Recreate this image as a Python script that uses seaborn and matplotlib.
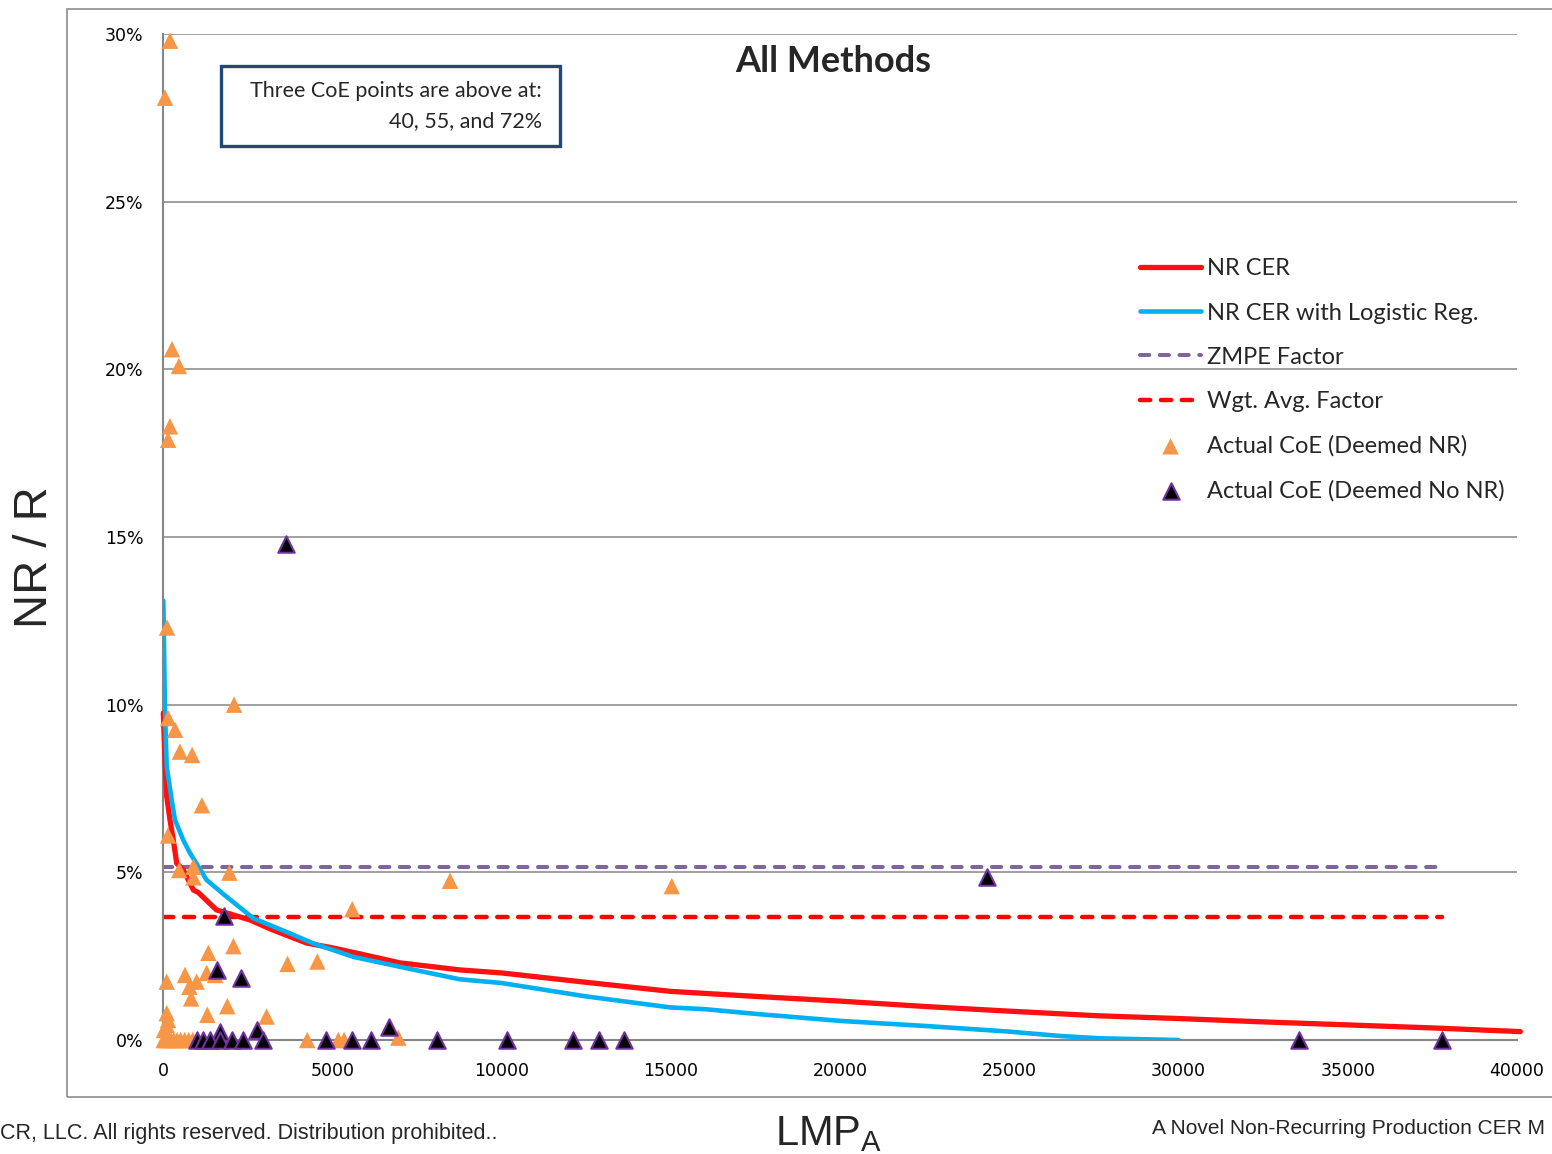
import matplotlib
matplotlib.use("Agg")
import matplotlib.pyplot as plt
import seaborn as sns
from matplotlib.patches import Rectangle

# ----------------------------
# data (y values in percent)
# ----------------------------
nr_cer_x = [10, 60, 110, 207, 305, 405, 600, 900, 1040, 1580, 2270, 2570, 3200, 4245,
            5000, 6210, 7000, 8770, 10000, 12500, 15000, 17500, 20000, 22500, 25000,
            27680, 30000, 32500, 35000, 37500, 40100]
nr_cer_y = [9.75, 8.3, 7.26, 6.56, 5.96, 5.27, 5.07, 4.47, 4.4, 3.88, 3.67, 3.58, 3.3, 2.89,
            2.75, 2.48, 2.3, 2.09, 2.0, 1.72, 1.45, 1.3, 1.16, 1.0, 0.86,
            0.72, 0.64, 0.54, 0.45, 0.36, 0.25]

logit_x = [10, 60, 110, 257, 355, 600, 800, 1290, 1880, 2670, 3750, 4440, 5620, 7200,
           8770, 10000, 12500, 15000, 16000, 17500, 20000, 22500, 25000, 26500, 27680, 30000]
logit_y = [13.1, 9.75, 8.15, 7.16, 6.56, 5.96, 5.57, 4.77, 4.27, 3.63, 3.18, 2.88, 2.48, 2.14,
           1.81, 1.7, 1.3, 0.97, 0.92, 0.78, 0.57, 0.42, 0.25, 0.12, 0.05, 0.0]

zmpe_x = [0, 37780]
zmpe_y = [5.16, 5.16]
wgt_x = [0, 37780]
wgt_y = [3.67, 3.67]

deemed_nr_x = [207, 60, 265, 470, 207, 150, 120, 2100, 150, 355, 500, 860, 1150, 150,
               480, 900, 900, 1960, 8480, 15030, 5590, 2080, 1340, 3680, 4560, 110, 650,
               995, 780, 1290, 1540, 830, 1900, 1310, 3060, 110, 150, 110, 30,
               4260, 5180, 5350, 6950, 20, 80, 160, 240, 320, 420, 520, 640, 760, 880, 1000]
deemed_nr_y = [29.8, 28.1, 20.6, 20.1, 18.3, 17.9, 12.3, 10.0, 9.6, 9.25, 8.6, 8.5, 7.0, 6.1,
               5.07, 5.17, 4.85, 4.99, 4.75, 4.59, 3.9, 2.8, 2.6, 2.27, 2.34, 1.74, 1.94,
               1.74, 1.59, 2.0, 1.94, 1.24, 1.01, 0.75, 0.7, 0.8, 0.6, 0.45, 0.3,
               0, 0, 0, 0.07, 0, 0, 0, 0, 0, 0, 0, 0, 0, 0, 0]

no_nr_x = [3630, 24340, 1800, 1600, 2300, 6690, 2770, 1680, 995, 1190, 1390, 1680, 2030,
           2350, 2940, 4830, 5570, 6130, 8080, 10170, 12100, 12890, 13620, 33560, 37780]
no_nr_y = [14.79, 4.86, 3.7, 2.09, 1.84, 0.38, 0.3, 0.25, 0, 0, 0, 0, 0,
           0, 0, 0, 0, 0, 0, 0, 0, 0, 0, 0, 0]

y_ticks = [0, 5, 10, 15, 20, 25, 30]
x_ticks = [0, 5000, 10000, 15000, 20000, 25000, 30000, 35000, 40000]

# ----------------------------
# figure
# ----------------------------
sns.set_style("white")
plt.rcParams["font.family"] = ["DejaVu Sans"]
plt.rcParams["mathtext.default"] = "regular"

W, H = 1552, 1154
fig = plt.figure(figsize=(W / 100, H / 100), dpi=100)
ax = fig.add_axes([163 / W, 114 / H, 1354 / W, 1006 / H])

# outer frame of the slide chart
fig.patches.append(Rectangle((67 / W, 57 / H), 1.2, 1088 / H, transform=fig.transFigure,
                             fill=False, edgecolor="#8c8c8c", lw=1.2, zorder=0))

grey = "#868686"
for v in y_ticks[1:]:
    ax.axhline(v, color=grey, lw=1.1, zorder=0)

sns.lineplot(x=nr_cer_x, y=nr_cer_y, ax=ax, color="#ff1111", lw=3.8, sort=False,
             estimator=None, label="NR CER", zorder=3, clip_on=False)
sns.lineplot(x=logit_x, y=logit_y, ax=ax, color="#00B0F0", lw=3.3, sort=False,
             estimator=None, label="NR CER with Logistic Reg.", zorder=3)
sns.lineplot(x=zmpe_x, y=zmpe_y, ax=ax, color="#8064A2", lw=2.9, sort=False,
             estimator=None, label="ZMPE Factor", zorder=2,
             linestyle=(0, (2.3, 2.6)), dash_capstyle="round")
sns.lineplot(x=wgt_x, y=wgt_y, ax=ax, color="#ff0000", lw=3.2, sort=False,
             estimator=None, label="Wgt. Avg. Factor", zorder=2,
             linestyle=(0, (2.3, 2.4)), dash_capstyle="round")

sns.scatterplot(x=deemed_nr_x, y=deemed_nr_y, ax=ax, marker="^", s=140, color="#F79646",
                edgecolor="none", label="Actual CoE (Deemed NR)", zorder=5, clip_on=False)
sns.scatterplot(x=no_nr_x, y=no_nr_y, ax=ax, marker="^", s=140, color="black",
                edgecolor="#7030A0", linewidth=1.5, label="Actual CoE (Deemed No NR)",
                zorder=6, clip_on=False)

ax.set_xlim(0, 40000)
ax.set_ylim(0, 30)
ax.set_xticks(x_ticks)
ax.set_xticklabels([str(v) for v in x_ticks])
ax.set_yticks(y_ticks)
ax.set_yticklabels([f"{v}%" for v in y_ticks])
ax.tick_params(axis="both", which="major", direction="out", length=6, width=1.2,
               color=grey, labelsize=12.5, labelcolor="black", pad=8)
ax.tick_params(axis="x", pad=10)
for side in ["top", "right"]:
    ax.spines[side].set_visible(False)
for side in ["left", "bottom"]:
    ax.spines[side].set_color(grey)
    ax.spines[side].set_linewidth(1.5)
ax.set_xlabel("")
ax.set_ylabel("")

# legend, same order as the reference
order = ["NR CER", "NR CER with Logistic Reg.", "ZMPE Factor", "Wgt. Avg. Factor",
         "Actual CoE (Deemed NR)", "Actual CoE (Deemed No NR)"]
handles, labels = ax.get_legend_handles_labels()
lookup = dict(zip(labels, handles))
ax.legend([lookup[k] for k in order], order, loc="upper left",
          bbox_to_anchor=(1131 / W, (H - 249) / H), bbox_transform=fig.transFigure,
          frameon=False, handlelength=2.55, handletextpad=0.25, labelspacing=0.98,
          borderaxespad=0, prop={"family": "Lato", "size": 17})

# title and note box
fig.text(833 / W, (H - 62) / H, "All Methods", ha="center", va="center",
         fontsize=26, fontweight="bold", family="Lato")
fig.patches.append(Rectangle((221 / W, (H - 146) / H), 339 / W, 80 / H,
                             transform=fig.transFigure, facecolor="white",
                             edgecolor="#1F497D", lw=2.4, zorder=3))
fig.text(542 / W, (H - 91) / H, "Three CoE points are above at:", ha="right",
         va="center", fontsize=15.5, family="Lato", zorder=4)
fig.text(542 / W, (H - 121) / H, "40, 55, and 72%", ha="right", va="center",
         fontsize=15.5, family="Lato", zorder=4)

# axis titles
fig.text(35 / W, (H - 557) / H, "NR / R", rotation=90, ha="center", va="center",
         fontsize=34, family="Liberation Sans")
fig.text(775 / W, (H - 1145) / H, "LMP$_A$", ha="left", va="baseline",
         fontsize=30, family="Liberation Sans")

# footer
fig.text(0, (H - 1133) / H, "CR, LLC. All rights reserved. Distribution prohibited..",
         ha="left", va="center", fontsize=15.5, family="Liberation Sans")
fig.text(1152 / W, (H - 1129) / H, "A Novel Non-Recurring Production CER M",
         ha="left", va="center", fontsize=15, family="Liberation Sans")

fig.savefig("out.png", dpi=100)
